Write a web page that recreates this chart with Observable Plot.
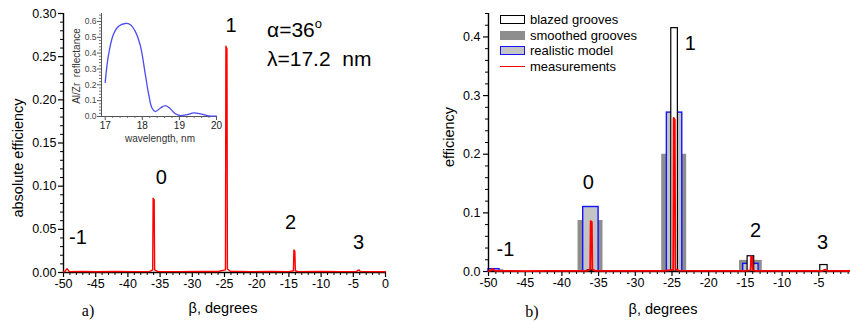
<!DOCTYPE html>
<html>
<head>
<meta charset="utf-8">
<script src="https://cdn.jsdelivr.net/npm/d3@7"></script>
<script src="https://cdn.jsdelivr.net/npm/@observablehq/plot@0.6"></script>
<style>
  html, body { margin: 0; padding: 0; background: #fff; overflow: hidden; }
  #wrap { position: relative; width: 850px; height: 322px; overflow: hidden; background: #fff;
          font-family: "Liberation Sans", Arial, Helvetica, sans-serif; }
  #wrap svg { position: absolute; }
  .lbl { position: absolute; white-space: nowrap; line-height: 1; color: #000; }
  .legend-row { position: absolute; height: 14px; display: flex; align-items: center; font-size: 13px; }
  .sw { width: 25px; height: 9px; margin-right: 5px; box-sizing: border-box; }
</style>
</head>
<body>
<div id="wrap"></div>
<script>
// ---------------- data ----------------
// measured diffraction spectrum (beta in degrees, absolute efficiency)
const measBeta = [-50, -49.8, -49.6, -49.45, -49.3, -49.1, -47, -45, -42, -39, -36.6, -36.15, -36.08, -35.92, -35.85, -35.4,
  -32, -29, -26, -24.85, -24.78, -24.62, -24.55, -24.1, -21, -18, -15, -14.3, -14.22, -14.08, -14.0, -13.6, -10, -7,
  -4.5, -4.3, -4.1, -3.9, -2, 0];
const measEff = [0.0008, 0.001, 0.003, 0.0045, 0.003, 0.001, 0.0012, 0.0008, 0.0012, 0.001, 0.0012, 0.003, 0.086, 0.084, 0.003, 0.0012,
  0.001, 0.0012, 0.0012, 0.003, 0.262, 0.259, 0.004, 0.0015, 0.001, 0.0012, 0.001, 0.002, 0.026, 0.025, 0.002, 0.001, 0.0012, 0.001,
  0.001, 0.0025, 0.003, 0.001, 0.001, 0.0008];

// inset: Al/Zr multilayer reflectance vs wavelength (nm)
const waveNm = [17.0, 17.09, 17.22, 17.36, 17.54, 17.68, 17.81, 17.95, 18.08, 18.17, 18.26, 18.35, 18.49, 18.62, 18.76, 18.89,
  19.03, 19.21, 19.39, 19.57, 19.75, 20.0];
const reflectance = [0.215, 0.39, 0.517, 0.569, 0.587, 0.579, 0.537, 0.444, 0.267, 0.142, 0.054, 0.031, 0.054, 0.069, 0.048, 0.017,
  0.006, 0.0125, 0.023, 0.017, 0.006, 0.002];

// panel b: model efficiencies per diffraction order
const orders = [-1, 0, 1, 2, 3];
const blazedFrom = [-49.5, -36.5, -25.1, -14.7, -4.8];
const blazedTo   = [-48.8, -35.7, -24.2, -13.8, -3.8];
const blazedEff  = [0, 0.002, 0.415, 0.026, 0.011];
const smoothFrom = [-50, -37.8, -26.4, -15.8, -4.5];
const smoothTo   = [-47.9, -34.4, -23.0, -12.7, -4.0];
const smoothEff  = [0.003, 0.087, 0.2, 0.019, 0];
const realFrom   = [-50, -37.1, -25.7, -15.3, -4.5];
const realTo     = [-48.5, -35.0, -23.6, -13.2, -4.0];
const realEff    = [0.004, 0.11, 0.271, 0.013, 0];

// tick values
const betaTicks = [-50, -45, -40, -35, -30, -25, -20, -15, -10, -5, 0];
const effTicksA = [0, 0.05, 0.10, 0.15, 0.20, 0.25, 0.30];
const effTicksB = [0, 0.1, 0.2, 0.3, 0.4];
const waveTicks = [17, 18, 19, 20];
const reflTicks = [0, 0.1, 0.2, 0.3, 0.4, 0.5, 0.6];

// order labels (text, beta, efficiency)
const orderNames = ["-1", "0", "1", "2", "3"];
const labelBetaA = [-47.75, -34.8, -24.0, -14.75, -4.2];
const labelEffA  = [0.0405, 0.11, 0.286, 0.058, 0.035];
const labelBetaB = [-47.7, -36.4, -22.5, -13.6, -4.5];
const labelEffB  = [0.0375, 0.152, 0.389, 0.07, 0.0495];

// ---------------- build ----------------
const font = '"Liberation Sans", Arial, Helvetica, sans-serif';
const wrap = document.getElementById("wrap");
const meas = measBeta.map((b, i) => ({beta: b, eff: measEff[i]}));
const refl = waveNm.map((w, i) => ({wl: w, r: reflectance[i]}));
const bars = (from, to, eff) => orders.map((o, i) => ({order: o, from: from[i], to: to[i], eff: eff[i]})).filter(d => d.eff > 0);
const labelsA = orderNames.map((t, i) => ({t, beta: labelBetaA[i], eff: labelEffA[i]}));
const labelsB = orderNames.map((t, i) => ({t, beta: labelBetaB[i], eff: labelEffB[i]}));
const minor = (a, b, step, majorStep) => d3.range(Math.round((b - a) / step) + 1).map(k => +(a + k * step).toFixed(4))
  .filter(v => Math.abs(v / majorStep - Math.round(v / majorStep)) > 1e-6);
const blank = () => "";

function place(svg, left, top) {
  svg.style.left = left + "px";
  svg.style.top = top + "px";
  wrap.appendChild(svg);
}

function label(html, x, y, o = {}) {
  const d = document.createElement("div");
  d.className = "lbl";
  d.innerHTML = html;
  const tx = o.anchor === "start" ? "0" : "-50%";
  d.style.left = x + "px";
  d.style.top = y + "px";
  d.style.transform = `translate(${tx},-50%)` + (o.rotate ? " rotate(-90deg)" : "");
  d.style.fontFamily = o.family || font;
  d.style.fontSize = (o.size || 14.5) + "px";
  if (o.color) d.style.color = o.color;
  wrap.appendChild(d);
}

// ---- panel a ----
const plotA = Plot.plot({
  width: 420, height: 322,
  marginLeft: 63, marginRight: 35, marginTop: 13, marginBottom: 50,
  x: {domain: [-50, 0]},
  y: {domain: [0, 0.3]},
  style: {fontFamily: font, fontSize: "12.5px", color: "#000", background: "transparent", overflow: "visible"},
  marks: [
    Plot.axisX(minor(-50, 0, 1, 5), {tickSize: 3, tickFormat: blank, label: null, strokeWidth: 1}),
    Plot.axisX(betaTicks, {tickSize: 5, tickPadding: 2, tickFormat: d => String(d), label: null, strokeWidth: 1.2}),
    Plot.axisY(minor(0, 0.3, 0.01, 0.05), {tickSize: 3, tickFormat: blank, label: null, strokeWidth: 1}),
    Plot.axisY(effTicksA, {tickSize: 5, tickPadding: 2, tickFormat: d3.format(".2f"), label: null, strokeWidth: 1.2}),
    Plot.ruleX([-50], {stroke: "#000", strokeWidth: 1.4}),
    Plot.ruleY([0], {stroke: "#000", strokeWidth: 1.4}),
    Plot.line(meas, {x: "beta", y: "eff", stroke: "#ff0000", strokeWidth: 1.4}),
    Plot.text(labelsA, {x: "beta", y: "eff", text: "t", fontSize: 20, fill: "#000"})
  ]
});
place(plotA, 0, 0);

// inset
const inset = Plot.plot({
  width: 165, height: 150,
  marginLeft: 41, marginRight: 9, marginTop: 13, marginBottom: 34,
  x: {domain: [16.9, 20]},
  y: {domain: [0, 0.65]},
  style: {fontFamily: font, fontSize: "9px", color: "#555", background: "transparent", overflow: "visible"},
  marks: [
    Plot.axisX(minor(17, 20, 0.2, 1), {tickSize: 2, tickFormat: blank, label: null, stroke: "#777"}),
    Plot.axisX(waveTicks, {tickSize: 4, tickPadding: 1, label: null, fontSize: 10, fill: "#222", stroke: "#555"}),
    Plot.axisY(minor(0, 0.64, 0.02, 0.1), {tickSize: 2, tickFormat: blank, label: null, stroke: "#777"}),
    Plot.axisY(reflTicks, {tickSize: 4, tickPadding: 1, tickFormat: d3.format(".1f"), label: null, fontSize: 8.5, fill: "#444", stroke: "#555"}),
    Plot.ruleX([16.9], {stroke: "#555"}),
    Plot.ruleY([0], {stroke: "#555"}),
    Plot.line(refl, {x: "wl", y: "r", stroke: "#4a4af2", strokeWidth: 1.3, curve: "catmull-rom"})
  ]
});
place(inset, 60, 0);

// ---- panel b ----
const plotB = Plot.plot({
  width: 440, height: 322,
  marginLeft: 68, marginRight: 5, marginTop: 13, marginBottom: 51,
  x: {domain: [-50, 0]},
  y: {domain: [0, 0.44]},
  style: {fontFamily: font, fontSize: "12.5px", color: "#000", background: "transparent", overflow: "visible"},
  marks: [
    Plot.axisX(minor(-50, 0, 1, 5), {tickSize: 3, tickFormat: blank, label: null, strokeWidth: 1}),
    Plot.axisX(betaTicks, {tickSize: 5, tickPadding: 2, tickFormat: d => String(d), label: null, strokeWidth: 1.2}),
    Plot.axisY(minor(0, 0.44, 0.02, 0.1), {tickSize: 3, tickFormat: blank, label: null, strokeWidth: 1}),
    Plot.axisY(effTicksB, {tickSize: 5, tickPadding: 3, tickFormat: d3.format(".1f"), label: null, strokeWidth: 1.2}),
    Plot.rect(bars(smoothFrom, smoothTo, smoothEff), {x1: "from", x2: "to", y1: () => 0, y2: "eff", fill: "#8e8e8e"}),
    Plot.rect(bars(realFrom, realTo, realEff), {x1: "from", x2: "to", y1: () => 0, y2: "eff", fill: "#c4c4c4", stroke: "#1414ff", strokeWidth: 1.4}),
    Plot.rect(bars(blazedFrom, blazedTo, blazedEff), {x1: "from", x2: "to", y1: () => 0, y2: "eff", fill: "#fff", stroke: "#000", strokeWidth: 1.2}),
    Plot.ruleX([-50], {stroke: "#000", strokeWidth: 1.4}),
    Plot.ruleY([0], {stroke: "#000", strokeWidth: 1.4}),
    Plot.line(meas, {x: "beta", y: "eff", stroke: "#ff0000", strokeWidth: 1.8}),
    Plot.text(labelsB, {x: "beta", y: "eff", text: "t", fontSize: 20, fill: "#000"})
  ]
});
place(plotB, 420, 0);

// ---- texts ----
label("absolute efficiency", 18, 158, {rotate: true});
label("β, degrees", 223, 308);
label("a)", 88, 311, {family: '"Liberation Serif", "Times New Roman", serif', size: 16});
label("Al/Zr&nbsp; reflectance", 77, 66, {rotate: true, size: 10, color: "#333"});
label("wavelength, nm", 160, 139, {size: 10, color: "#333"});
label("α=36<sup style=\"font-size:13px;vertical-align:9px;line-height:0\">o</sup>", 267, 29, {anchor: "start", size: 21});
label("λ=17.2&nbsp; nm", 267, 58, {anchor: "start", size: 21});

label("efficiency", 449, 137, {rotate: true});
label("β, degrees", 663, 309);
label("b)", 532, 312, {family: '"Liberation Serif", "Times New Roman", serif', size: 16});

// legend
const legendItems = [
  {name: "blazed grooves", css: "background:#fff;border:1.5px solid #000;"},
  {name: "smoothed grooves", css: "background:#8e8e8e;"},
  {name: "realistic model", css: "background:#c4c4c4;border:1.5px solid #1414ff;"},
  {name: "measurements", css: "height:1.6px;background:#ff0000;"}
];
legendItems.forEach((it, i) => {
  const row = document.createElement("div");
  row.className = "legend-row";
  row.style.left = "500px";
  row.style.top = (12.5 + i * 15.6) + "px";
  row.innerHTML = `<div class="sw" style="${it.css}"></div><span>${it.name}</span>`;
  wrap.appendChild(row);
});
</script>
</body>
</html>
